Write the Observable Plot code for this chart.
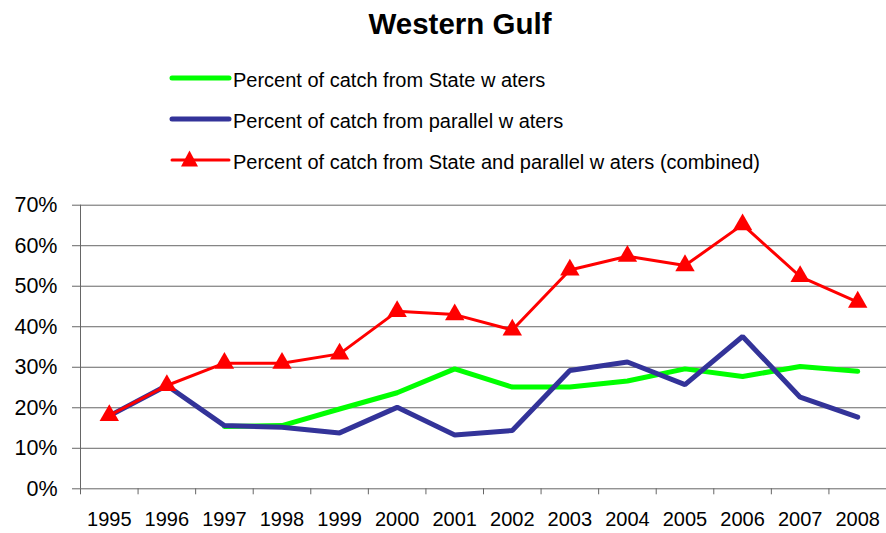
<!DOCTYPE html>
<html>
<head>
<meta charset="utf-8">
<script src="https://cdn.jsdelivr.net/npm/d3@7"></script>
<script src="https://cdn.jsdelivr.net/npm/@observablehq/plot@0.6"></script>
<style>
  html, body { margin: 0; padding: 0; background: white; }
  #wrap { position: relative; width: 886px; height: 533px; font-family: "Liberation Sans", Arial, sans-serif; }
  #header { position: relative; width: 886px; height: 185px; }
  .title { position: absolute; left: 0; width: 920px; top: 8.5px; text-align: center; font-size: 29.5px; font-weight: bold; line-height: 29.5px; color: black; }
  .leg { position: absolute; left: 0; height: 24px; }
  .leg svg { position: absolute; left: 160px; top: 0; }
  .leg span { position: absolute; left: 233px; font-size: 20px; line-height: 20px; white-space: nowrap; color: black; }
</style>
</head>
<body>
<div id="wrap">
  <div id="header">
    <div class="title">Western Gulf</div>
    <div id="legend"></div>
  </div>
  <div id="chart"></div>
</div>
<script>
const years = [1995, 1996, 1997, 1998, 1999, 2000, 2001, 2002, 2003, 2004, 2005, 2006, 2007, 2008];
const stateWaters = [null, null, 15.4, 15.6, 19.7, 23.7, 29.6, 25.1, 25.1, 26.6, 29.6, 27.7, 30.2, 29.0];
const parallelWaters = [18.0, 25.5, 15.6, 15.2, 13.8, 20.1, 13.3, 14.4, 29.2, 31.3, 25.7, 37.6, 22.6, 17.7];
const combinedWaters = [18.1, 25.5, 31.0, 31.0, 33.3, 43.8, 43.0, 39.2, 54.0, 57.4, 55.1, 65.2, 52.4, 46.1];
const yTicks = [0, 10, 20, 30, 40, 50, 60, 70];
const seriesNames = [
  "Percent of catch from State w aters",
  "Percent of catch from parallel w aters",
  "Percent of catch from State and parallel w aters (combined)"
];
const seriesColors = ["#00ff00", "#333399", "#ff0000"];

// Legend
const legend = document.getElementById("legend");
const rowTops = [66, 107, 148];
seriesNames.forEach((name, i) => {
  const row = document.createElement("div");
  row.className = "leg";
  row.style.top = rowTops[i] + "px";
  row.style.width = "886px";
  const marker = i === 2
    ? `<polygon points="29.5,2.5 21,18.5 38,18.5" fill="${seriesColors[i]}"/>`
    : "";
  row.innerHTML = `<svg width="72" height="24"><line x1="12" x2="69" y1="12" y2="12" stroke="${seriesColors[i]}" stroke-width="${i === 2 ? 3 : 5}" stroke-linecap="round"/>${marker}</svg><span style="top:3.8px">${name}</span>`;
  legend.appendChild(row);
});

const toRows = (vals) => years.map((year, i) => ({year, value: vals[i]})).filter(d => d.value != null);
const stateData = toRows(stateWaters);
const parallelData = toRows(parallelWaters);
const combinedData = toRows(combinedWaters);
const boundaries = years.map(y => y - 0.5).concat([years[years.length - 1] + 0.5]);

const chart = Plot.plot({
  width: 886,
  height: 348,
  marginLeft: 80,
  marginRight: 0,
  marginTop: 19.7,
  marginBottom: 44.7,
  x: {type: "linear", domain: [years[0] - 0.5, years[years.length - 1] + 0.5]},
  y: {domain: [0, 70]},
  style: {fontFamily: "'Liberation Sans', Arial, sans-serif", background: "white", color: "black"},
  marks: [
    Plot.ruleY(yTicks, {stroke: "#666666", strokeWidth: 1}),
    Plot.ruleX([years[0] - 0.5], {stroke: "#666666", strokeWidth: 1}),
    Plot.axisY(yTicks, {tickFormat: d => d + "%", tickSize: 8, tickPadding: 15, fontSize: 21.5, stroke: "#666666", label: null}),
    Plot.axisX(boundaries, {tickSize: 6, tickFormat: () => "", stroke: "#666666", label: null}),
    Plot.axisX(years, {tickSize: 0, tickPadding: 23, fontSize: 20, tickFormat: d => String(d), label: null}),
    Plot.line(stateData, {x: "year", y: "value", stroke: seriesColors[0], strokeWidth: 5, strokeLinecap: "round", strokeLinejoin: "miter"}),
    Plot.line(parallelData, {x: "year", y: "value", stroke: seriesColors[1], strokeWidth: 5, strokeLinecap: "round", strokeLinejoin: "miter"}),
    Plot.line(combinedData, {x: "year", y: "value", stroke: seriesColors[2], strokeWidth: 3}),
    Plot.dot(combinedData, {x: "year", y: "value", symbol: "triangle", r: 7.2, fill: seriesColors[2], stroke: "none"})
  ]
});
document.getElementById("chart").appendChild(chart);
</script>
</body>
</html>
